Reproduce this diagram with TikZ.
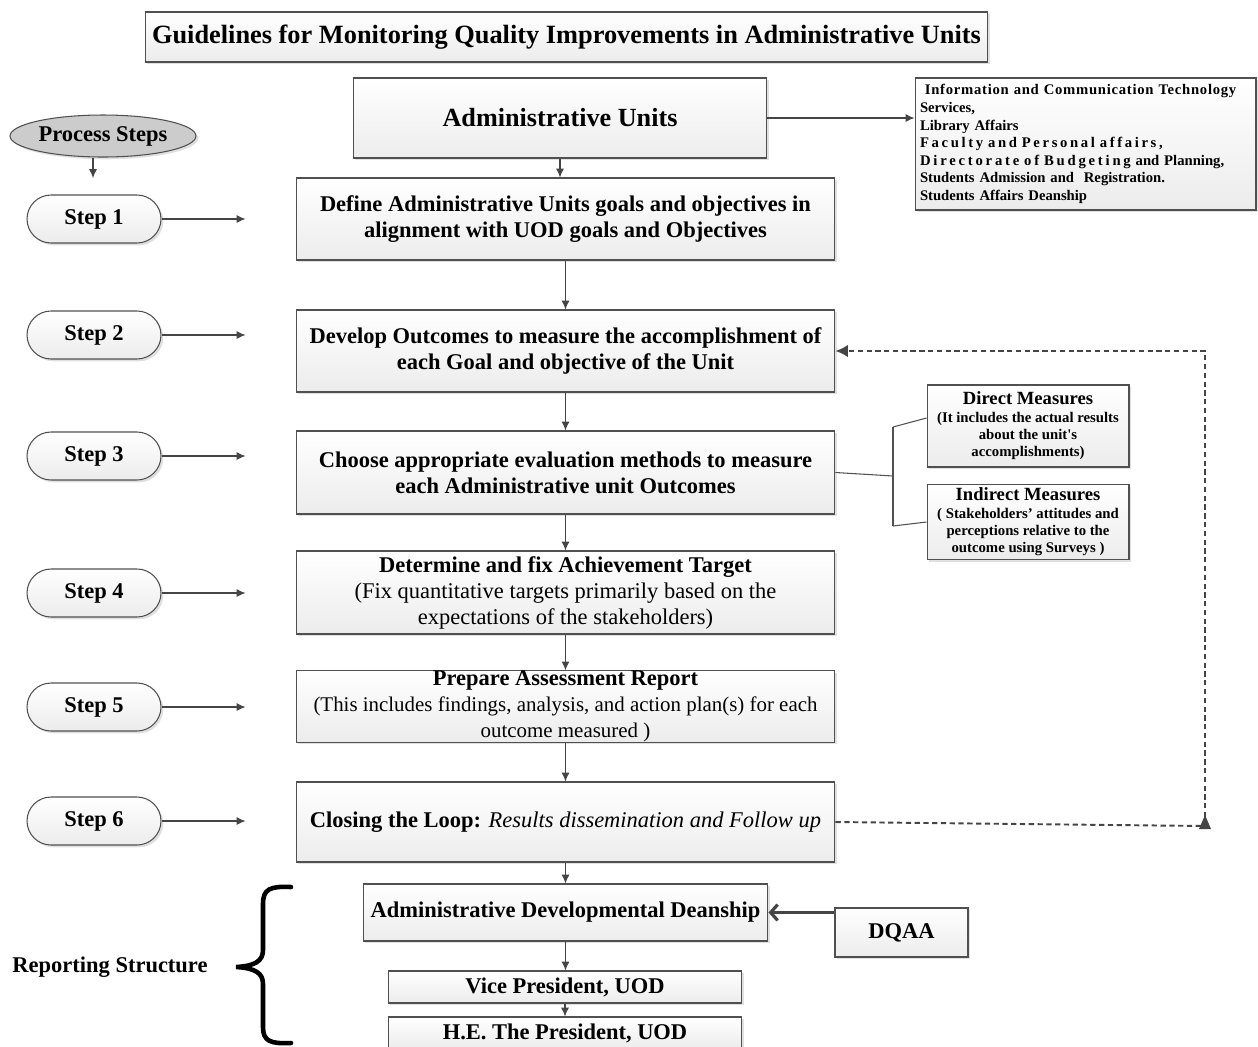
\documentclass[tikz,border=0pt]{standalone}
\usepackage{fontspec}
\setmainfont{Liberation Serif}
\usetikzlibrary{shadows,arrows.meta,calc,shapes.geometric}
\definecolor{edgec}{HTML}{505050}
\definecolor{arrowc}{HTML}{454545}
\begin{document}
\begin{tikzpicture}[x=0.02cm,y=-0.02cm,
  shadebox/.style={draw=edgec, line width=0.6pt, top color=white, bottom color=gray!15,
    drop shadow={shadow xshift=1.3pt, shadow yshift=-1.3pt, fill=gray!45, opacity=0.55},
    align=center, inner sep=2pt},
  txt/.style={font=\fontsize{12.8}{14.8}\selectfont\bfseries},
  mainbox/.style={shadebox, txt, minimum width=10.78cm},
  stepbox/.style={shadebox, txt, rounded corners=0.48cm, minimum width=2.68cm, minimum height=0.96cm},
  smallbox/.style={shadebox, minimum width=4.04cm, font=\fontsize{8.4}{9.9}\selectfont\bfseries},
  arr/.style={draw=arrowc, line width=0.6pt, -{Latex[length=5pt,width=4.5pt]}},
  thin/.style={draw=edgec, line width=0.6pt},
  loopline/.style={draw=arrowc, line width=1.1pt, dash pattern=on 3pt off 2pt}
]
\useasboundingbox (0,0) rectangle (1258,1046);
\clip (0,0) rectangle (1258,1046);

% heading
\node[shadebox, minimum width=16.86cm, minimum height=1cm,
  font=\fontsize{15}{17}\selectfont\bfseries] (title) at (566.5,37)
  {Guidelines for Monitoring Quality Improvements in Administrative Units};

% top unit and list of units
\node[shadebox, minimum width=8.28cm, minimum height=1.6cm,
  font=\fontsize{14.9}{17}\selectfont\bfseries] (au) at (560,118) {Administrative Units};
\node[shadebox, minimum width=6.82cm, minimum height=2.64cm, align=left, text width=6.62cm,
  font=\fontsize{8.35}{10}\selectfont\bfseries] (info) at (1085.5,144)
  {{\addfontfeature{LetterSpace=5}\ Information and Communication Technology}\\
   Services,\\
   Library Affairs\\
   {\addfontfeature{LetterSpace=18}Faculty and Personal affairs,}\\
   {\addfontfeature{LetterSpace=19}Directorate of Budgeting} and Planning,\\
   Students Admission and\ \ Registration.\\
   Students Affairs Deanship};

% process steps column
\node[draw=edgec, line width=0.6pt, ellipse, fill=gray!40, minimum width=3.72cm, minimum height=0.84cm,
  inner sep=0pt, txt,
  drop shadow={shadow xshift=1.3pt, shadow yshift=-1.3pt, fill=gray!45, opacity=0.55}]
  (ps) at (103,136) {Process Steps};
\node[stepbox] (s1) at (94,219) {Step 1};
\node[stepbox] (s2) at (94,335) {Step 2};
\node[stepbox] (s3) at (94,456) {Step 3};
\node[stepbox] (s4) at (94,593) {Step 4};
\node[stepbox] (s5) at (94,707) {Step 5};
\node[stepbox] (s6) at (94,821) {Step 6};

% main steps
\node[mainbox, minimum height=1.64cm] (b1) at (565.5,219)
  {Define Administrative Units goals and objectives in\\ alignment with UOD goals and Objectives};
\node[mainbox, minimum height=1.64cm] (b2) at (565.5,351)
  {Develop Outcomes to measure the accomplishment of\\ each Goal and objective of the Unit};
\node[mainbox, minimum height=1.66cm] (b3) at (565.5,472.5)
  {Choose appropriate evaluation methods to measure\\ each Administrative unit Outcomes};
\node[mainbox, minimum height=1.66cm] (b4) at (565.5,592.5)
  {Determine and fix Achievement Target\\
   {\mdseries (Fix quantitative targets primarily based on the}\\
   {\mdseries expectations of the stakeholders)}};
\node[mainbox, minimum height=1.42cm, inner sep=0pt] (b5) at (565.5,706.5)
  {Prepare Assessment Report\\
   {\mdseries\fontsize{11.9}{14.8}\selectfont (This includes findings, analysis, and action plan(s) for each}\\
   {\mdseries\fontsize{11.9}{14.8}\selectfont outcome measured )}};
\node[mainbox, minimum height=1.6cm] (b6) at (565.5,822)
  {Closing the Loop: {\mdseries\itshape Results dissemination and Follow up}};

% evaluation methods
\node[smallbox, minimum height=1.64cm] (dm) at (1028,426)
  {{\fontsize{10.6}{11}\selectfont Direct Measures}\\
   (It includes the actual results\\ about the unit\textquotesingle s\\ accomplishments)};
\node[smallbox, minimum height=1.48cm] (im) at (1028,522)
  {{\fontsize{10.6}{11}\selectfont Indirect Measures}\\
   ( Stakeholders’ attitudes and\\ perceptions relative to the\\ outcome using Surveys )};

% reporting structure
\node[shadebox, txt, minimum width=8.1cm, minimum height=1.14cm] (dd) at (565.5,912.5)
  {Administrative Developmental Deanship};
\node[shadebox, txt, minimum width=2.66cm, minimum height=0.98cm] (dq) at (901.5,932.5) {DQAA};
\node[shadebox, txt, minimum width=7.08cm, minimum height=0.64cm] (vp) at (565,987) {Vice President, UOD};
\node[shadebox, txt, minimum width=7.08cm, minimum height=0.64cm] (he) at (565,1033) {H.E. The President, UOD};
\node[txt] (rs) at (110,967) {Reporting Structure};

% brace of the reporting structure
\draw[line width=2.6pt, line cap=round]
  (291,887) .. controls (270,886) and (263,889) .. (263,904) -- (263,950)
  .. controls (263,961) and (255,966) .. (236,967)
  .. controls (255,968) and (263,973) .. (263,984) -- (263,1027)
  .. controls (263,1041) and (270,1044) .. (291,1043);

% connectors of the main column
\coordinate (pa) at (93,178);
\draw[arr] (pa |- ps.south) -- (pa);
\foreach \s in {s1,s2,s3,s4,s5,s6}{
  \coordinate (\s e) at ($(\s.east)+(84,0)$);
  \draw[arr] (\s.east) -- (\s e);
}
\draw[arr] (au.south) -- (au.south |- b1.north);
\draw[arr] (b1.south) -- (b1.south |- b2.north);
\draw[arr] (b2.south) -- (b2.south |- b3.north);
\draw[arr] (b3.south) -- (b3.south |- b4.north);
\draw[arr] (b4.south) -- (b4.south |- b5.north);
\draw[arr] (b5.south) -- (b5.south |- b6.north);
\draw[arr] (b6.south) -- (b6.south |- dd.north);
\draw[arr] (dd.south) -- (dd.south |- vp.north);
\draw[arr] (vp.south) -- (vp.south |- he.north);
\draw[arr] (au.east) -- (au.east -| info.west);

% DQAA reports to the deanship
\draw[draw=arrowc, line width=1.8pt, -{Straight Barb[length=4pt,width=9pt]}]
  (dd.east -| dq.west) -- (dd.east);

% bracket to the two kinds of measures
\coordinate (bm) at (893,476);
\coordinate (bt) at (893,427);
\coordinate (bb) at (893,526);
\draw[thin] (b3.east) -- (bm);
\draw[thin] (bt) -- (bb);
\draw[thin] (bt) -- ($(dm.west)+(0,-8)$);
\draw[thin] (bb) -- (im.west);

% feedback loop
\coordinate (lb) at (1205,826);
\coordinate (lt) at (1205,351);
\draw[loopline] (b6.east) -- (lb);
\fill[arrowc] ($(lb)+(0,-11)$) -- ($(lb)+(-6,3)$) -- ($(lb)+(6,3)$) -- cycle;
\draw[loopline, -{Latex[length=7pt,width=7pt]}] (lb) -- (lt) -- (b2.east);
\end{tikzpicture}
\end{document}
